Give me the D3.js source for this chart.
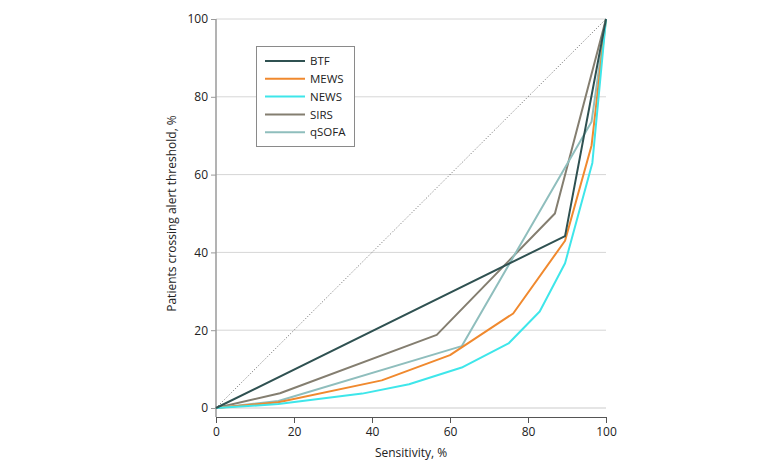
<!DOCTYPE html>
<html>
<head>
<meta charset="utf-8">
<script src="https://cdn.jsdelivr.net/npm/d3@7"></script>
<style>
  body { margin: 0; background: #fff; }
  svg { display: block; font-family: "Open Sans", "Noto Sans", sans-serif; }
</style>
</head>
<body>
<svg id="chart" width="780" height="472"></svg>
<script>
// ---- data ----
const seriesNames = ["BTF", "MEWS", "NEWS", "SIRS", "qSOFA"];
const seriesColors = ["#2f5151", "#f0892e", "#3ee6ea", "#847e70", "#8fbebd"];
const btf   = [[0,0],[89.5,44.2],[100,100]];
const mews  = [[0,0],[16,1.5],[42.5,7.1],[60,13.6],[76.2,24.3],[89.5,43.0],[96.3,67.5],[100,100]];
const news  = [[0,0],[16,1.0],[37.5,3.7],[49.5,6.1],[63,10.4],[75,16.6],[83,24.8],[89.5,37.2],[96.5,63],[100,100]];
const sirs  = [[0,0],[16.4,3.8],[56.6,18.8],[86.9,50],[100,100]];
const qsofa = [[0,0],[16,1.8],[63,15.9],[96.3,73.6],[100,100]];
const reference = [[0,0],[100,100]];
const xTicks = [0, 20, 40, 60, 80, 100];
const yTicks = [0, 20, 40, 60, 80, 100];
const xTitle = "Sensitivity, %";
const yTitle = "Patients crossing alert threshold, %";

const seriesData = [btf, mews, news, sirs, qsofa];

// ---- chart ----
const svg = d3.select("#chart");
const x = d3.scaleLinear().domain([0, 100]).range([216, 606]);
const y = d3.scaleLinear().domain([0, 100]).range([408, 19]);

// gridlines
svg.append("g").selectAll("line").data(yTicks.filter(d => d > 0)).join("line")
  .attr("x1", x(0)).attr("x2", x(100))
  .attr("y1", d => y(d)).attr("y2", d => y(d))
  .attr("stroke", "#d6d6d6").attr("stroke-width", 1);
svg.append("line")
  .attr("x1", x(0)).attr("x2", x(100)).attr("y1", y(0)).attr("y2", y(0))
  .attr("stroke", "#dcdcdc").attr("stroke-width", 1.5);

// y axis
const yAxis = svg.append("g").attr("transform", `translate(${x(0)},0)`)
  .call(d3.axisLeft(y).tickValues(yTicks).tickSize(5).tickPadding(3));
yAxis.select(".domain").attr("d", `M0,${y(100)}V417`).attr("stroke", "#9a9a9a").attr("stroke-width", 1.5);
yAxis.selectAll(".tick line").attr("stroke", "#9a9a9a");
yAxis.selectAll("text").attr("font-size", 12).attr("fill", "#222").attr("font-family", "Open Sans");

// x axis
const xAxis = svg.append("g").attr("transform", "translate(0,417)")
  .call(d3.axisBottom(x).tickValues(xTicks).tickSize(6).tickPadding(4).tickSizeOuter(0));
xAxis.select(".domain").attr("stroke", "#555");
xAxis.selectAll(".tick line").attr("stroke", "#555");
xAxis.selectAll("text").attr("font-size", 12).attr("fill", "#222").attr("font-family", "Open Sans");

// titles
svg.append("text").attr("x", x(50)).attr("y", 457).attr("text-anchor", "middle")
  .attr("font-size", 12).attr("fill", "#222").text(xTitle);
svg.append("text").attr("transform", `translate(176,${y(50)}) rotate(-90)`)
  .attr("text-anchor", "middle").attr("font-size", 12).attr("fill", "#222").text(yTitle);

// reference diagonal
const line = d3.line().x(d => x(d[0])).y(d => y(d[1]));
svg.append("path").attr("d", line(reference)).attr("fill", "none")
  .attr("stroke", "#555").attr("stroke-width", 0.9).attr("stroke-dasharray", "1,2");

// series (draw order so BTF on top-ish)
const order = [3, 4, 1, 2, 0];
order.forEach(i => {
  svg.append("path").attr("d", line(seriesData[i])).attr("fill", "none")
    .attr("stroke", seriesColors[i]).attr("stroke-width", 2)
    .attr("stroke-linejoin", "round");
});

// legend
const lg = svg.append("g");
lg.append("rect").attr("x", 256.5).attr("y", 46.5).attr("width", 98).attr("height", 100)
  .attr("fill", "#fff").attr("stroke", "#8a8a8a").attr("stroke-width", 1);
seriesNames.forEach((n, i) => {
  const yy = 61 + i * 17.8;
  lg.append("line").attr("x1", 265).attr("x2", 305).attr("y1", yy).attr("y2", yy)
    .attr("stroke", seriesColors[i]).attr("stroke-width", 2);
  lg.append("text").attr("x", 310).attr("y", yy).attr("dy", "0.36em")
    .attr("font-size", 11.5).attr("fill", "#222").text(n);
});
</script>
</body>
</html>
